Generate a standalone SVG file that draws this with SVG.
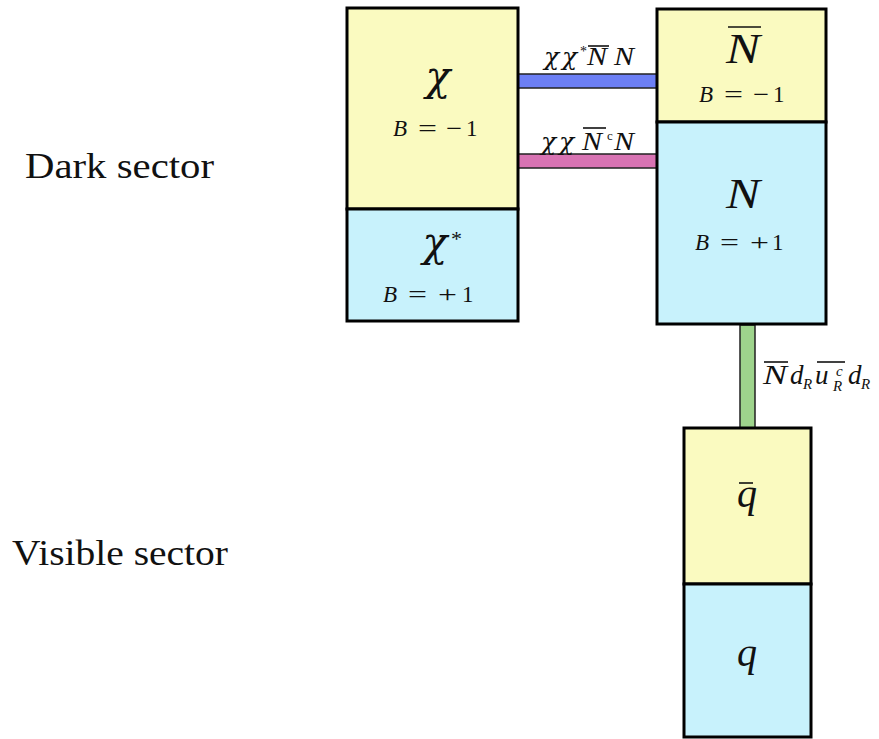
<svg xmlns="http://www.w3.org/2000/svg" width="879" height="739" viewBox="0 0 879 739">
<style>
.box{stroke:#000;stroke-width:3}
.y{fill:#fafac0}
.c{fill:#c8f2fc}
.t{font-family:"Liberation Serif","DejaVu Serif",serif;fill:#111}
.m{font-family:"Liberation Serif","DejaVu Serif",serif;font-style:italic;fill:#111}
.g{font-family:"DejaVu Serif","Liberation Serif",serif;font-style:italic;fill:#111}
.u{font-family:"Liberation Serif","DejaVu Serif",serif;fill:#111}
.ol{stroke:#111;stroke-width:1.6}
.bar{stroke:#222;stroke-width:1.5}
</style>
<rect width="879" height="739" fill="#fff"/>
<text class="t" x="25" y="178" font-size="36" textLength="189" lengthAdjust="spacingAndGlyphs">Dark sector</text>
<text class="t" x="12" y="565" font-size="36" textLength="216" lengthAdjust="spacingAndGlyphs">Visible sector</text>
<g id="connectors">
<rect class="bar" x="518" y="74" width="139" height="14" fill="#6c7ff5"/>
<rect class="bar" x="518" y="154" width="139" height="14" fill="#d873b3"/>
<rect class="bar" x="740" y="325" width="15" height="103" fill="#9ed48c"/>
<g id="label-1">
<text class="g" x="544" y="65" font-size="25">χ</text>
<text class="g" x="562" y="65" font-size="25">χ</text>
<text class="u" x="580" y="56" font-size="14">*</text>
<text class="m" x="587" y="65" font-size="25" textLength="20" lengthAdjust="spacingAndGlyphs">N</text>
<line class="ol" x1="588" y1="46" x2="609" y2="46"/>
<text class="m" x="614" y="65" font-size="25" textLength="20" lengthAdjust="spacingAndGlyphs">N</text>
</g>
<g id="label-2">
<text class="g" x="541" y="150" font-size="25">χ</text>
<text class="g" x="559" y="150" font-size="25">χ</text>
<text class="m" x="582" y="150" font-size="25" textLength="20" lengthAdjust="spacingAndGlyphs">N</text>
<line class="ol" x1="583" y1="128" x2="606" y2="128"/>
<text class="u" x="607" y="140" font-size="13">c</text>
<text class="m" x="614" y="150" font-size="25" textLength="20" lengthAdjust="spacingAndGlyphs">N</text>
</g>
<g id="label-3">
<text class="m" x="763" y="384" font-size="27" textLength="24" lengthAdjust="spacingAndGlyphs">N</text>
<line class="ol" x1="764" y1="362" x2="788" y2="362"/>
<text class="m" x="790" y="384" font-size="27">d</text>
<text class="m" x="803" y="389" font-size="15">R</text>
<text class="m" x="815" y="384" font-size="27">u</text>
<line class="ol" x1="817" y1="362" x2="845" y2="362"/>
<text class="m" x="836" y="376" font-size="15">c</text>
<text class="m" x="833" y="391" font-size="15">R</text>
<text class="m" x="848" y="384" font-size="27">d</text>
<text class="m" x="861" y="389" font-size="15">R</text>
</g>
</g>
<g id="chi-box">
<rect class="box y" x="347" y="8" width="171" height="201"/>
<rect class="box c" x="347" y="209" width="171" height="112"/>
<text class="g" x="438" y="90" font-size="41" text-anchor="middle">χ</text>
<text class="m" x="393" y="136" font-size="23">B</text>
<text class="u" x="418" y="136" font-size="23" textLength="19" lengthAdjust="spacingAndGlyphs">=</text>
<text class="u" x="446" y="136" font-size="23" textLength="16" lengthAdjust="spacingAndGlyphs">−</text>
<text class="u" x="466" y="136" font-size="23">1</text>
<text class="g" x="435" y="256" font-size="41" text-anchor="middle">χ</text>
<text class="u" x="451" y="246" font-size="22">*</text>
<text class="m" x="383" y="302" font-size="23">B</text>
<text class="u" x="408" y="302" font-size="23" textLength="19" lengthAdjust="spacingAndGlyphs">=</text>
<text class="u" x="438" y="302" font-size="23" textLength="19" lengthAdjust="spacingAndGlyphs">+</text>
<text class="u" x="462" y="302" font-size="23">1</text>
</g>
<g id="N-box">
<rect class="box y" x="657" y="9" width="169" height="113"/>
<rect class="box c" x="657" y="122" width="169" height="202"/>
<text class="m" x="726" y="63" font-size="42" textLength="34" lengthAdjust="spacingAndGlyphs">N</text>
<line class="ol" x1="728" y1="27" x2="761" y2="27" stroke-width="2.2"/>
<text class="m" x="699" y="102" font-size="23">B</text>
<text class="u" x="724" y="102" font-size="23" textLength="19" lengthAdjust="spacingAndGlyphs">=</text>
<text class="u" x="753" y="102" font-size="23" textLength="16" lengthAdjust="spacingAndGlyphs">−</text>
<text class="u" x="773" y="102" font-size="23">1</text>
<text class="m" x="726" y="208" font-size="42" textLength="34" lengthAdjust="spacingAndGlyphs">N</text>
<text class="m" x="695" y="250" font-size="23">B</text>
<text class="u" x="720" y="250" font-size="23" textLength="19" lengthAdjust="spacingAndGlyphs">=</text>
<text class="u" x="750" y="250" font-size="23" textLength="19" lengthAdjust="spacingAndGlyphs">+</text>
<text class="u" x="772" y="250" font-size="23">1</text>
</g>
<g id="q-box">
<rect class="box y" x="684" y="428" width="127" height="156"/>
<rect class="box c" x="684" y="584" width="127" height="153"/>
<text class="m" x="737" y="507" font-size="40">q</text>
<line class="ol" x1="739" y1="483" x2="753" y2="483" stroke-width="2.2"/>
<text class="m" x="737" y="666" font-size="40">q</text>
</g>
</svg>
